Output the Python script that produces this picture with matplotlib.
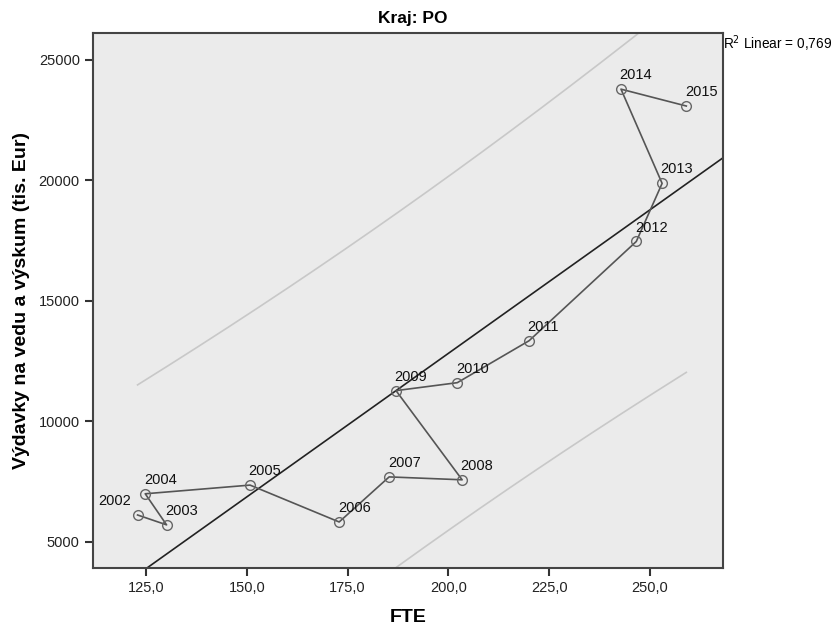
import numpy as np
import matplotlib
matplotlib.use("Agg")
import matplotlib.pyplot as plt
from matplotlib.ticker import FuncFormatter

plt.rcParams['font.family'] = ['Liberation Sans', 'DejaVu Sans']

# Data (FTE vs spending on R&D, thousands EUR)
years = ["2002", "2003", "2004", "2005", "2006", "2007", "2008",
         "2009", "2010", "2011", "2012", "2013", "2014", "2015"]
fte = [122.9, 130.1, 124.8, 150.8, 172.9, 185.3, 203.4,
       187.0, 202.2, 220.0, 246.6, 253.0, 242.8, 259.0]
spend = [6120, 5710, 7000, 7360, 5830, 7700, 7580,
         11280, 11610, 13350, 17470, 19880, 23790, 23090]
y_ticks = [5000, 10000, 15000, 20000, 25000]
x_ticks = [125, 150, 175, 200, 225, 250]
r2_label = "0,769"

x = np.array(fte)
y = np.array(spend)
n = len(x)

# Linear fit and 95% individual prediction interval
slope, intercept = np.polyfit(x, y, 1)
yhat = slope * x + intercept
s = np.sqrt(np.sum((y - yhat) ** 2) / (n - 2))
t_crit = 2.179  # t(0.975, df=12)
xs = np.linspace(x.min(), x.max(), 200)
se_pred = s * np.sqrt(1 + 1 / n + (xs - x.mean()) ** 2 / np.sum((x - x.mean()) ** 2))
fit_s = slope * xs + intercept

fig = plt.figure(figsize=(8.38, 6.27), dpi=100)
ax = fig.add_axes([93 / 838, 1 - 568 / 627, (723 - 93) / 838, (568 - 33) / 627])
ax.set_facecolor("#ebebeb")

xl = np.array([110, 270])
ax.plot(xl, slope * xl + intercept, color="#222222", lw=1.2, zorder=2)
ax.plot(xs, fit_s + t_crit * se_pred, color="#c8c8c8", lw=1.2, zorder=1)
ax.plot(xs, fit_s - t_crit * se_pred, color="#c8c8c8", lw=1.2, zorder=1)

ax.plot(x, y, color="#555555", lw=1.2, marker="o", markersize=7,
        markerfacecolor="none", markeredgecolor="#666666", markeredgewidth=1.0, zorder=3)

for i, yr in enumerate(years):
    if yr == "2002":
        ax.annotate(yr, (x[i], y[i]), xytext=(-5, 5), textcoords="offset points",
                    ha="right", va="bottom", fontsize=10.5, color="#111111")
    else:
        ax.annotate(yr, (x[i], y[i]), xytext=(-1, 5), textcoords="offset points",
                    ha="left", va="bottom", fontsize=10.5, color="#111111")

ax.set_xlim(111.85, 268.1)
ax.set_ylim(3920, 26120)
ax.set_xticks(x_ticks)
ax.set_yticks(y_ticks)
ax.xaxis.set_major_formatter(FuncFormatter(lambda v, p: f"{v:.1f}".replace(".", ",")))
ax.tick_params(axis="both", labelsize=10.5, length=6, width=1.5, color="#333333", labelcolor="#222222")

for sp in ax.spines.values():
    sp.set_color("#444444")
    sp.set_linewidth(1.5)

ax.set_xlabel("FTE", fontsize=14, fontweight="bold", labelpad=10)
ax.set_ylabel("Výdavky na vedu a výskum (tis. Eur)", fontsize=14, fontweight="bold", labelpad=6)

fig.text(413 / 838, 1 - 18 / 627, "Kraj: PO", ha="center", va="center",
         fontsize=12.5, fontweight="bold")
fig.text(723 / 838, 1 - 44 / 627, r"R$^2$ Linear = " + r2_label,
         ha="left", va="center", fontsize=9.8)

fig.savefig("out.png", dpi=100)
